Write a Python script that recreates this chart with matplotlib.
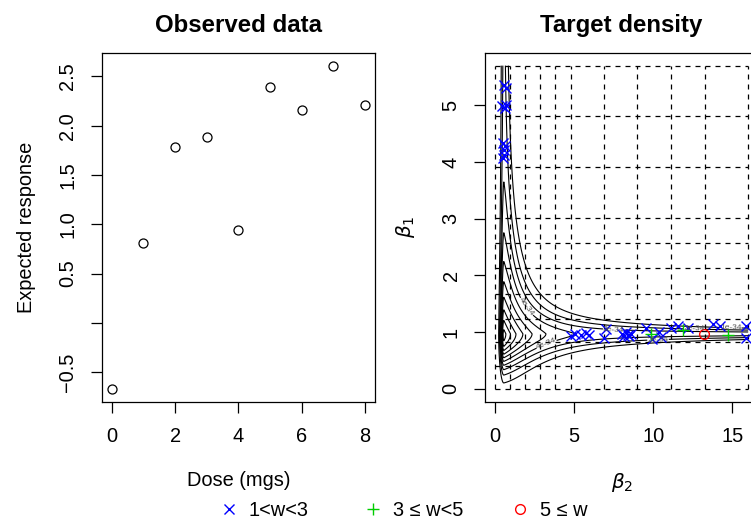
import numpy as np
import matplotlib
matplotlib.use("Agg")
import matplotlib.pyplot as plt
from matplotlib.lines import Line2D

plt.rcParams['font.family'] = ['Liberation Sans', 'DejaVu Sans']
plt.rcParams['mathtext.fontset'] = 'dejavusans'

# ---------------- data ----------------
dose = [0, 1, 2, 3, 4, 5, 6, 7, 8]
response = [-0.67, 0.81, 1.78, 1.89, 0.94, 2.39, 2.16, 2.61, 2.21]

left_yticks = [-0.5, 0.0, 0.5, 1.0, 1.5, 2.0, 2.5]
left_yticklabels = ['\u22120.5', '', '0.5', '1.0', '1.5', '2.0', '2.5']
left_xticks = [0, 2, 4, 6, 8]

# samples (beta2, beta1) by weight class
blue_b2 = [0.53, 0.70, 0.43, 0.64, 0.70, 0.49, 0.64, 0.53, 0.59, 0.49,
           4.77, 5.08, 5.40, 5.72, 5.93, 6.99, 6.88,
           8.05, 8.26, 8.37, 8.58, 8.15, 8.47,
           9.53, 9.95, 10.38, 10.48, 11.12, 11.54, 12.18,
           13.77, 14.19, 15.88, 15.88]
blue_b1 = [5.36, 5.30, 4.98, 4.95, 5.01, 4.34, 4.28, 4.22, 4.13, 4.07,
           0.93, 0.97, 0.95, 0.98, 0.95, 1.06, 0.89,
           0.97, 1.00, 0.95, 0.97, 0.93, 0.93,
           1.08, 0.88, 1.00, 0.91, 1.07, 1.10, 1.08,
           1.14, 1.10, 1.10, 0.89]
green_b2 = [9.85, 11.86, 14.72]
green_b1 = [0.97, 1.04, 0.94]
red_b2 = [13.23]
red_b1 = [0.97]

# partition grid lines
grid_b2 = [0, 0.95, 1.91, 2.86, 3.81, 4.77, 6.88, 9.0, 11.12, 13.25, 16.0]
grid_b1 = [0, 0.41, 0.82, 1.23, 1.68, 2.13, 2.58, 3.02, 3.92, 4.81, 5.70]

# target density (ridge shaped) parameters
ridge_b1, ridge_b2 = 0.97, 0.55
cross_sd_v, cross_sd_h = 1.15, 1.0
floor_v, tau_v = 0.20, 1.2
floor_h, tau_h = 0.33, 1.75
sd_low, sd_left = 0.40, 0.15
dens_scale = 1.05e-33
levels = [k * 1e-34 for k in range(1, 11)]
# approximate spots where R printed contour labels
clabel_spots = [(2.0, 1.45), (3.3, 0.75), (7.5, 1.06), (10.3, 0.86),
                (12.6, 1.07), (14.9, 1.06)]
right_xticks = [0, 5, 10, 15]
right_yticks = [0, 1, 2, 3, 4, 5]

legend_labels = ['1<w<3', '3 \u2264 w<5', '5 \u2264 w']
legend_marker_x = [229, 373, 520]   # pixel centres of legend symbols

# ---------------- figure ----------------
W, H = 751, 522
fig = plt.figure(figsize=(W / 100, H / 100), dpi=100)

ax_l0, ax_b0, ax_w, ax_h = 101.7, 401.7, 273.3, 349.0
axL = fig.add_axes([ax_l0 / W, (H - ax_b0) / H, ax_w / W, ax_h / H])
axR = fig.add_axes([485.0 / W, (H - ax_b0) / H, ax_w / W, ax_h / H])

tick_fs = 14.4
for ax in (axL, axR):
    for sp in ax.spines.values():
        sp.set_linewidth(0.9)
    ax.tick_params(axis='both', direction='out', length=8, width=0.9,
                   labelsize=tick_fs)
    ax.tick_params(axis='x', pad=10)
    ax.tick_params(axis='y', pad=9.5)

# ----- left panel -----
axL.plot(dose, response, linestyle='none', marker='o', markersize=6.5,
         markerfacecolor='none', markeredgecolor='black', markeredgewidth=0.9)
r = max(response) - min(response)
axL.set_ylim(min(response) - 0.04 * r, max(response) + 0.04 * r)
axL.set_xlim(min(dose) - 0.04 * 8, max(dose) + 0.04 * 8)
axL.set_xticks(left_xticks)
axL.set_yticks(left_yticks)
axL.set_yticklabels(left_yticklabels, rotation=90, va='center')
axL.set_title('Observed data', fontsize=17.3, fontweight='bold', pad=15)
axL.set_xlabel('Dose (mgs)', fontsize=tick_fs)
axL.set_ylabel('Expected response', fontsize=tick_fs)
axL.xaxis.set_label_coords(0.5, -0.198)
axL.yaxis.set_label_coords(-0.24, 0.5)

# ----- right panel -----
b2 = np.linspace(0, 16.0, 900)
b1 = np.linspace(0, 5.70, 500)
B2, B1 = np.meshgrid(b2, b1)
d1 = B1 - ridge_b1
d2 = B2 - ridge_b2
p1 = np.clip(d1, 0, None)
p2 = np.clip(d2, 0, None)
t = p2 / (p1 + p2 + 1e-9)
cross_sd = cross_sd_v + (cross_sd_h - cross_sd_v) * t
cross = np.exp(-0.5 * (d1 * d2 / cross_sd) ** 2)
gv = floor_v + (1 - floor_v) * np.exp(-p1 / tau_v)
gh = floor_h + (1 - floor_h) * np.exp(-p2 / tau_h)
cut_low = np.exp(-0.5 * (np.clip(-d1, 0, None) / sd_low) ** 2)
cut_left = np.exp(-0.5 * (np.clip(-d2, 0, None) / sd_left) ** 2)
Z = dens_scale * cross * gv * gh * cut_low * cut_left

cs = axR.contour(B2, B1, Z, levels=levels, colors='black', linewidths=0.8)
axR.clabel(cs, fontsize=6, colors='0.3', inline=True, inline_spacing=1,
           fmt=lambda v: f"{v:.0e}", manual=clabel_spots)

for gx in grid_b2:
    axR.plot([gx, gx], [grid_b1[0], grid_b1[-1]], color='black', lw=0.9,
             linestyle=(0, (4, 4)))
for gy in grid_b1:
    axR.plot([grid_b2[0], grid_b2[-1]], [gy, gy], color='black', lw=0.9,
             linestyle=(0, (4, 4)))

blue, green, red = '#0000FF', '#00CD00', '#FF0000'
axR.plot(blue_b2, blue_b1, linestyle='none', marker='x', markersize=7,
         color=blue, markeredgewidth=1.0)
axR.plot(green_b2, green_b1, linestyle='none', marker='+', markersize=9,
         color=green, markeredgewidth=1.0)
axR.plot(red_b2, red_b1, linestyle='none', marker='o', markersize=7,
         markerfacecolor='none', markeredgecolor=red, markeredgewidth=1.0)

axR.set_xlim(-0.04 * 16.0, 16.0 * 1.04)
axR.set_ylim(-0.04 * 5.70, 5.70 * 1.04)
axR.set_xticks(right_xticks)
axR.set_yticks(right_yticks)
axR.set_yticklabels([str(v) for v in right_yticks], rotation=90, va='center')
axR.set_title('Target density', fontsize=17.3, fontweight='bold', pad=15)
axR.set_xlabel(r'$\beta_2$', fontsize=tick_fs)
axR.set_ylabel(r'$\beta_1$', fontsize=tick_fs, rotation=90)
axR.xaxis.set_label_coords(0.5, -0.198)
axR.yaxis.set_label_coords(-0.25, 0.5)

# ----- legend (three entries, like R's horizontal legend) -----
handles = [
    Line2D([], [], linestyle='none', marker='x', color=blue, markersize=7,
           markeredgewidth=1.0),
    Line2D([], [], linestyle='none', marker='+', color=green, markersize=9,
           markeredgewidth=1.0),
    Line2D([], [], linestyle='none', marker='o', markerfacecolor='none',
           markeredgecolor=red, markersize=7, markeredgewidth=1.0),
]
leg_fs = 14.4
hl = 1.0
for h, lab, mx in zip(handles, legend_labels, legend_marker_x):
    x0 = mx - 0.5 * hl * leg_fs * 100 / 72
    fig.legend([h], [lab], loc='center left', frameon=False,
               bbox_to_anchor=(x0 / W, 1 - 510 / H), fontsize=leg_fs,
               handletextpad=0.5, handlelength=hl, borderpad=0,
               borderaxespad=0)

fig.savefig('out.png', dpi=100)
